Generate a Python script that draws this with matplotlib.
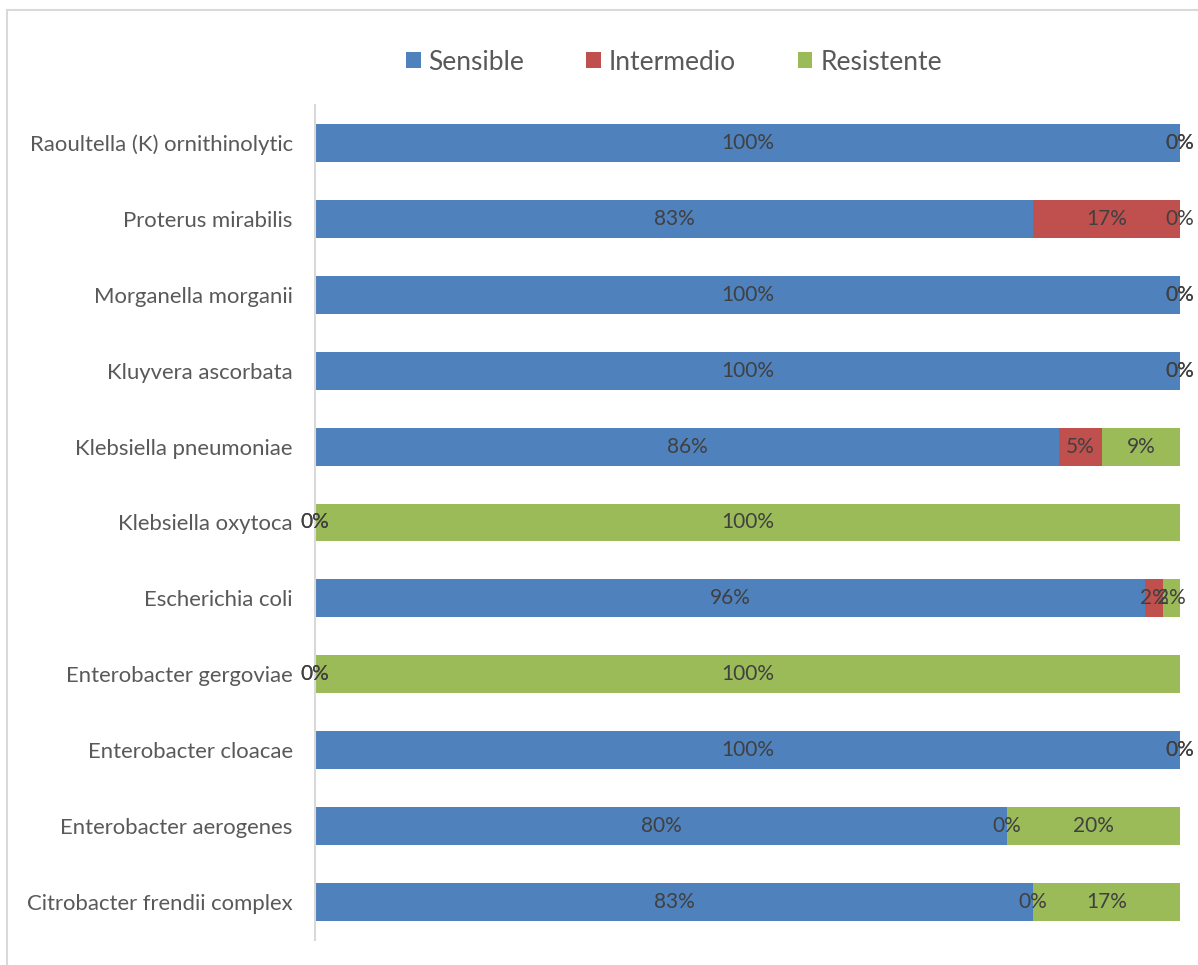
import matplotlib.pyplot as plt
from matplotlib.patches import Rectangle

# Especies (de arriba hacia abajo)
especies = [
    'Raoultella (K) ornithinolytic',
    'Proterus mirabilis',
    'Morganella morganii',
    'Kluyvera ascorbata',
    'Klebsiella pneumoniae',
    'Klebsiella oxytoca',
    'Escherichia coli',
    'Enterobacter gergoviae',
    'Enterobacter cloacae',
    'Enterobacter aerogenes',
    'Citrobacter frendii complex',
]

# Porcentajes por categoría
sensible = [100, 83, 100, 100, 86, 0, 96, 0, 100, 80, 83]
intermedio = [0, 17, 0, 0, 5, 0, 2, 0, 0, 0, 0]
resistente = [0, 0, 0, 0, 9, 100, 2, 100, 0, 20, 17]

series = [('Sensible', sensible, '#4F81BD'),
          ('Intermedio', intermedio, '#C0504D'),
          ('Resistente', resistente, '#9BBB59')]

plt.rcParams['font.family'] = ['Lato', 'DejaVu Sans']

fig = plt.figure(figsize=(11.98, 9.65), dpi=100)
ax = fig.add_axes([315 / 1198, 1 - 940 / 965, 865 / 1198, 835 / 965])

# Marco gris del gráfico
fig.patches.append(Rectangle((7 / 1198, -0.01), 1.0, 1 - 10 / 965 + 0.01,
                             transform=fig.transFigure, fill=False,
                             edgecolor='#D9D9D9', linewidth=1.5))

y = list(range(len(especies)))
izquierda = [0] * len(especies)
handles = []
for nombre, valores, color in series:
    barras = ax.barh(y, valores, left=izquierda, height=0.5, color=color,
                     label=nombre)
    ax.bar_label(barras, labels=[f'{v:.0f}%' for v in valores],
                 label_type='center', fontsize=15, color='#404040')
    izquierda = [a + b for a, b in zip(izquierda, valores)]
    handles.append(barras)

ax.set_xlim(0, 100)
ax.set_ylim(len(especies) - 0.5, -0.5)
ax.set_yticks(y)
ax.set_yticklabels(especies, fontsize=15.9, color='#595959')
ax.tick_params(axis='y', length=0, pad=16)
ax.set_xticks([])
for lado in ['top', 'right', 'bottom']:
    ax.spines[lado].set_visible(False)
ax.spines['left'].set_color('#D9D9D9')
ax.spines['left'].set_linewidth(1.5)

fig.legend(handles=handles, loc='center', bbox_to_anchor=(674 / 1198, 1 - 62 / 965),
           ncol=3, frameon=False, fontsize=19, handlelength=0.55, handleheight=0.55,
           handletextpad=0.3, columnspacing=2.35, labelcolor='#595959')

plt.savefig('out.png', dpi=100)
